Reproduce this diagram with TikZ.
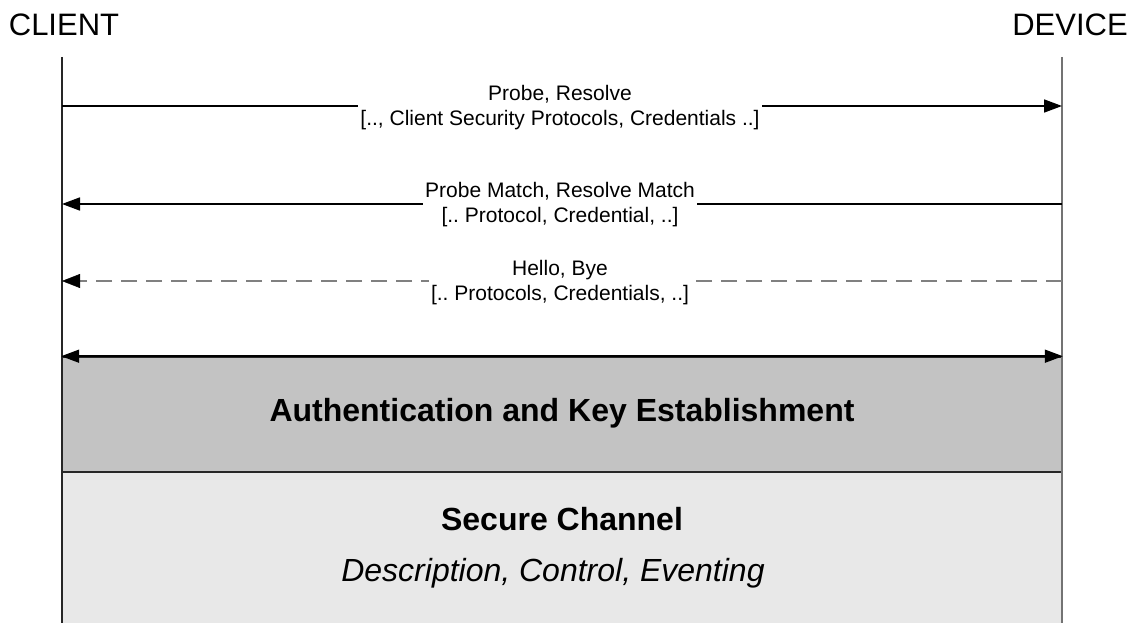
\documentclass[tikz,border=0pt]{standalone}
\usepackage{fontspec}
\setmainfont{Liberation Sans}
\usetikzlibrary{positioning, arrows.meta}
\definecolor{authcolor}{HTML}{C3C3C3}
\definecolor{channelcolor}{HTML}{E8E8E8}
\frenchspacing
\tikzstyle{party} = [inner sep=0pt,
font=\fontsize{31}{36}\selectfont]
\tikzstyle{msg} = [fill=white, align=center, inner sep=2pt,
font=\fontsize{21}{25}\selectfont]
\tikzstyle{lifeline} = [line width=1.6pt]
\tikzstyle{arrow} = [line width=1.6pt,
-{Triangle[length=18pt, width=13pt]}]
\tikzstyle{hintarrow} = [line width=2.2pt, draw=black!50,
dash pattern=on 16pt off 9pt,
-{Triangle[length=18pt, width=14pt, color=black, line width=0.5pt]}]
\tikzstyle{boxtitle} = [inner sep=0pt,
font=\fontsize{32}{38}\selectfont\bfseries]

\begin{document}
\begin{tikzpicture}[x=1pt, y=-1pt]
\useasboundingbox (0,0) rectangle (1133,623);

%-----------the two parties
\node (client) [party] at (64,25) {CLIENT};
\node (device) [party] at (1070,25) {DEVICE};
\coordinate (clienttop) at (62,57);
\coordinate (clientbot) at (62,623);
\coordinate (devicetop) at (1062,57);
\coordinate (devicebot) at (1062,623);

%-----------secure channel and key establishment
\fill[channelcolor] (62,472) rectangle (1062,623);
\node (auth) [draw=black!85, line width=1.6pt, fill=authcolor,
  minimum width=1000pt, minimum height=115pt, inner sep=0pt]
  at (562,414.5) {};
\node (authtext) [boxtitle] at (562,413) {Authentication and Key Establishment};
\node (secure) [boxtitle] at (562,519) {Secure Channel};
\node (usage) [inner sep=0pt, font=\fontsize{32}{38}\selectfont\itshape]
  at (553,573) {Description, Control, Eventing};

%-----------lifelines
\draw [lifeline, black!85] (clienttop) -- (clientbot);
\draw [lifeline, black!55] (devicetop) -- (devicebot);

%-----------probe / resolve
\coordinate (c1) at (62,106);
\coordinate (d1) at (1062,106);
\draw [arrow] (c1) -- (d1);
\node (probe) [msg] at (560,108)
  {Probe, Resolve\\{}[.., Client Security Protocols, Credentials ..]};

%-----------probe match / resolve match
\coordinate (c2) at (62,204);
\coordinate (d2) at (1062,204);
\draw [arrow] (d2) -- (c2);
\node (match) [msg] at (560,205)
  {Probe Match, Resolve Match\\{}[.. Protocol, Credential, ..]};

%-----------hello / bye
\coordinate (c3) at (62,281);
\coordinate (d3) at (1062,281);
\draw [hintarrow] (d3) -- (c3);
\node (hello) [msg] at (560,283)
  {Hello, Bye\\{}[.. Protocols, Credentials, ..]};

%-----------both ways
\draw [line width=1.6pt, {Triangle[length=18pt, width=13pt]}-{Triangle[length=18pt, width=13pt]}]
  (auth.north west) -- (auth.north east);

\end{tikzpicture}
\end{document}
